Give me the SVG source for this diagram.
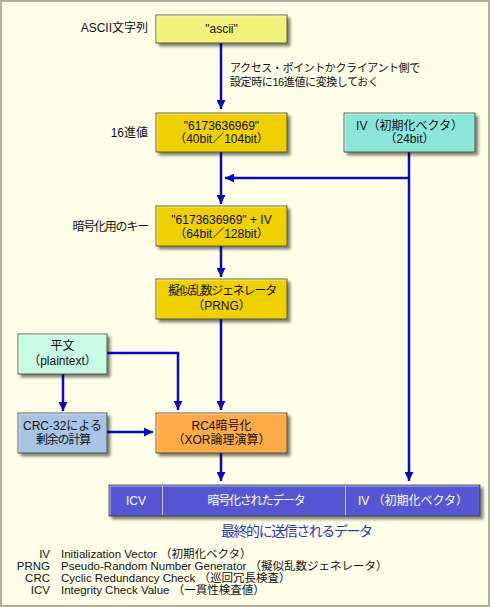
<svg xmlns="http://www.w3.org/2000/svg" width="490" height="607" viewBox="0 0 490 607">
<defs>
<filter id="sh" x="-10%" y="-20%" width="130%" height="160%">
<feGaussianBlur in="SourceAlpha" stdDeviation="1.6"/>
<feOffset dx="3" dy="3" result="b"/>
<feComponentTransfer><feFuncA type="linear" slope="0.5"/></feComponentTransfer>
<feMerge><feMergeNode/><feMergeNode in="SourceGraphic"/></feMerge>
</filter>
<marker id="ah" viewBox="0 0 10 10" refX="10" refY="5" markerWidth="9" markerHeight="9" markerUnits="userSpaceOnUse" orient="auto">
<path d="M0,0 L10,5 L0,10 z" fill="#0A0AC0"/>
</marker>
</defs>
<style>
text{font-family:"Liberation Sans","Noto Sans CJK JP",sans-serif;font-size:12px;fill:#111}
.c{text-anchor:middle}
.r{text-anchor:end}
.jp{letter-spacing:-1.2px}
.an{font-size:11px;letter-spacing:-0.4px}
.w{fill:#fff}
.box{stroke:#3a3a2a;stroke-width:0.8}
.hl{fill:none;stroke:#fff;stroke-opacity:0.55;stroke-width:1}
.cn{fill:none;stroke:#0A0AC0;stroke-width:2.5}
.lg{font-size:11.5px}
</style>
<rect x="1" y="1" width="488" height="605" fill="#FFFFE9" stroke="#B4AE9E" stroke-width="2"/>

<g id="labels">
<text class="r" x="148" y="31.5">ASCII文字列</text>
<text class="r" x="148" y="136.5">16進値</text>
<text class="r jp" x="148" y="231">暗号化用のキー</text>
<text class="an" x="230" y="72">アクセス・ポイントかクライアント側で</text>
<text class="an" x="230" y="86">設定時に16進値に変換しておく</text>
</g>

<g id="connectors">
<path class="cn" d="M221,43 V109" marker-end="url(#ah)"/>
<path class="cn" d="M221,152 V204" marker-end="url(#ah)"/>
<path class="cn" d="M409,152 V481" marker-end="url(#ah)"/>
<path class="cn" d="M409,178 H225" marker-end="url(#ah)"/>
<path class="cn" d="M221,246 V277" marker-end="url(#ah)"/>
<path class="cn" d="M221,319 V410" marker-end="url(#ah)"/>
<path class="cn" d="M107,353 H178 V410" marker-end="url(#ah)"/>
<path class="cn" d="M63,374 V411" marker-end="url(#ah)"/>
<path class="cn" d="M107,432 H153" marker-end="url(#ah)"/>
<path class="cn" d="M221,453 V481" marker-end="url(#ah)"/>
</g>

<g id="n-ascii">
<rect class="box" x="156" y="15" width="131" height="28" fill="#F0F27A" filter="url(#sh)"/>
<path class="hl" d="M157,42 V16 H286"/>
<text class="c" x="221.5" y="32.5">"ascii"</text>
</g>

<g id="n-hex">
<rect class="box" x="156" y="113" width="131" height="39" fill="#EFD000" filter="url(#sh)"/>
<path class="hl" d="M157,151 V114 H286"/>
<text class="c" x="221.5" y="129.5">"6173636969"</text>
<text class="c" x="221.5" y="142.5">（40bit／104bit）</text>
</g>

<g id="n-iv">
<rect class="box" x="344" y="113" width="131" height="39" fill="#8CE6D8" filter="url(#sh)"/>
<path class="hl" d="M345,151 V114 H474"/>
<text class="c" x="409.5" y="129.5">IV（初期化ベクタ）</text>
<text class="c" x="409.5" y="142.5">（24bit）</text>
</g>

<g id="n-key">
<rect class="box" x="156" y="206" width="131" height="40" fill="#EFD000" filter="url(#sh)"/>
<path class="hl" d="M157,245 V207 H286"/>
<text class="c" x="221.5" y="223.5">"6173636969" + IV</text>
<text class="c" x="221.5" y="237.5">（64bit／128bit）</text>
</g>

<g id="n-prng">
<rect class="box" x="156" y="279" width="131" height="40" fill="#EFD000" filter="url(#sh)"/>
<path class="hl" d="M157,318 V280 H286"/>
<text class="c jp" x="222" y="295">擬似乱数ジェネレータ</text>
<text class="c" x="221.5" y="310">（PRNG）</text>
</g>

<g id="n-plain">
<rect class="box" x="18" y="334" width="89" height="40" fill="#C8FAE4" filter="url(#sh)"/>
<path class="hl" d="M19,373 V335 H106"/>
<text class="c" x="62.5" y="350">平文</text>
<text class="c" x="62.5" y="364.5">（plaintext）</text>
</g>

<g id="n-crc">
<rect class="box" x="18" y="413" width="89" height="40" fill="#A8C4E4" filter="url(#sh)"/>
<path class="hl" d="M19,452 V414 H106"/>
<text class="c" x="62.5" y="430">CRC-32による</text>
<text class="c jp" x="63" y="443.5">剰余の計算</text>
</g>

<g id="n-rc4">
<rect class="box" x="156" y="413" width="131" height="40" fill="#FFAA48" filter="url(#sh)"/>
<path class="hl" d="M157,452 V414 H286"/>
<text class="c" x="221.5" y="430">RC4暗号化</text>
<text class="c" x="221.5" y="443.5">（XOR論理演算）</text>
</g>

<g id="n-bar">
<rect class="box" x="109" y="485" width="371" height="31" fill="#5656D4" filter="url(#sh)"/>
<path class="hl" d="M110,515 V486 H479"/>
<line x1="162.5" y1="486" x2="162.5" y2="515" stroke="#C8C8F0" stroke-width="1"/>
<line x1="345.5" y1="486" x2="345.5" y2="515" stroke="#C8C8F0" stroke-width="1"/>
<text class="c w" x="136" y="504.5">ICV</text>
<text class="c w jp" x="256" y="504.5">暗号化されたデータ</text>
<text class="c w" x="413" y="504.5">IV （初期化ベクタ）</text>
</g>

<g id="final">
<text class="c" x="297" y="535.5" style="font-size:14px;fill:#2838C8" textLength="152">最終的に送信されるデータ</text>
</g>

<g id="legend">
<text class="r lg" x="50" y="557.5">IV</text>
<text class="lg" x="61" y="557.5">Initialization Vector （初期化ベクタ）</text>
<text class="r lg" x="50" y="569.5">PRNG</text>
<text class="lg" x="61" y="569.5">Pseudo-Random Number Generator （擬似乱数ジェネレータ）</text>
<text class="r lg" x="50" y="581.5">CRC</text>
<text class="lg" x="61" y="581.5">Cyclic Redundancy Check （巡回冗長検査）</text>
<text class="r lg" x="50" y="593.5">ICV</text>
<text class="lg" x="61" y="593.5">Integrity Check Value （一貫性検査値）</text>
</g>
</svg>
